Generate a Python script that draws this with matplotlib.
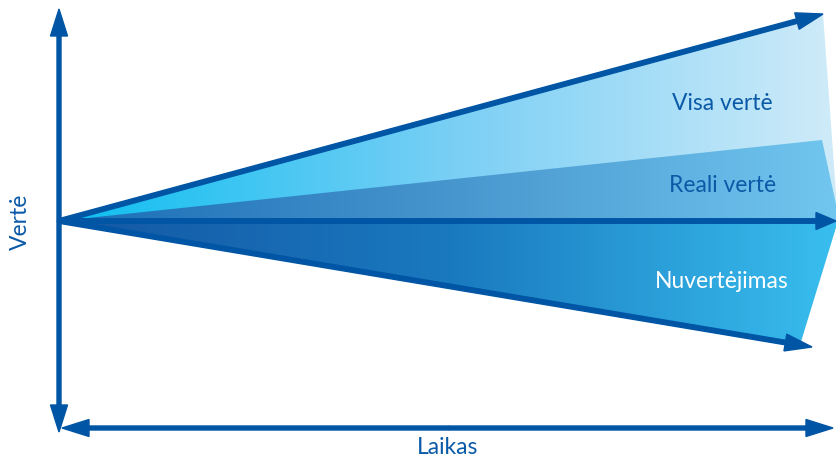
import numpy as np
import matplotlib.pyplot as plt
from matplotlib.patches import Polygon
from matplotlib.colors import LinearSegmentedColormap

# Diagram values, measured from the starting point (0, 0): time to the right, value up
labels = ['Visa vertė', 'Reali vertė', 'Nuvertėjimas']
line_end_t = [764, 777, 753]        # total value line, time axis line, depreciation line
line_end_v = [207, 0, -126]
real_end_t = 763                    # top of the "real value" band
real_end_v = 81
band_edge_t = [[779, 779], [777, 781], [779, 741]]   # right edges of the shaded bands
band_edge_v = [[0, 0], [17, 0], [0, -124]]

band_colors = [
    ['#0bbef0', '#7acff5', '#d2ecf9'],
    ['#1a6db6', '#4896ce', '#72c8f0'],
    ['#1456a4', '#1a7abf', '#3ac0f0'],
]
blue = '#0055a5'
text_blue = '#0b5aa8'

fig = plt.figure(figsize=(8.36, 4.6), dpi=100)
ax = fig.add_axes([0, 0, 1, 1])
ax.set_xlim(-59, 777)
ax.set_ylim(-238, 222)
ax.axis('off')

# Shaded bands (horizontal gradients clipped to polygons)
polys = [
    [(0, 0), (line_end_t[0], line_end_v[0]), (band_edge_t[0][0], band_edge_v[0][0])],
    [(0, 0), (real_end_t, real_end_v), (band_edge_t[1][0], band_edge_v[1][0]),
     (band_edge_t[1][1], band_edge_v[1][1])],
    [(0, 0), (band_edge_t[2][0], band_edge_v[2][0]), (band_edge_t[2][1], band_edge_v[2][1])],
]
grad = np.linspace(0, 1, 512).reshape(1, -1)
for pts, cols in zip(polys, band_colors):
    cmap = LinearSegmentedColormap.from_list('band', cols)
    patch = Polygon(pts, closed=True, facecolor='none', edgecolor='none')
    ax.add_patch(patch)
    im = ax.imshow(grad, cmap=cmap, extent=[0, 790, -140, 222], aspect='auto',
                   interpolation='bilinear', zorder=1)
    im.set_clip_path(patch)

# Arrows from the start point
ax.arrow(0, 0, line_end_t[0], line_end_v[0], width=4.5, head_width=17, head_length=27,
         length_includes_head=True, color=blue, zorder=3)
ax.arrow(0, 0, line_end_t[1], line_end_v[1], width=4.5, head_width=17, head_length=20,
         length_includes_head=True, color=blue, zorder=3)
ax.arrow(0, 0, line_end_t[2], line_end_v[2], width=4.5, head_width=17, head_length=27,
         length_includes_head=True, color=blue, zorder=3)

# Axes (double headed)
ax.arrow(0, 0, 0, 212, width=4, head_width=17, head_length=27,
         length_includes_head=True, color=blue, zorder=3)
ax.arrow(0, 0, 0, -211, width=4, head_width=17, head_length=27,
         length_includes_head=True, color=blue, zorder=3)
ax.arrow(390, -207, -387, 0, width=4, head_width=17, head_length=27,
         length_includes_head=True, color=blue, zorder=3)
ax.arrow(390, -207, 384, 0, width=4, head_width=17, head_length=27,
         length_includes_head=True, color=blue, zorder=3)

font = 'Lato'
fs = 16.5
ax.text(663, 119, labels[0], color=text_blue, fontsize=fs, family=font,
        ha='center', va='center', zorder=4)
ax.text(664, 37, labels[1], color=text_blue, fontsize=fs, family=font,
        ha='center', va='center', zorder=4)
ax.text(663, -60, labels[2], color='white', fontsize=fs, family=font,
        ha='center', va='center', zorder=4)
ax.text(389, -226, 'Laikas', color=text_blue, fontsize=fs, family=font,
        ha='center', va='center', zorder=4)
ax.text(-39, 0, 'Vertė', color=text_blue, fontsize=fs, family=font, rotation=90,
        ha='center', va='center', zorder=4)

fig.savefig('out.png', dpi=100)
plt.close()
